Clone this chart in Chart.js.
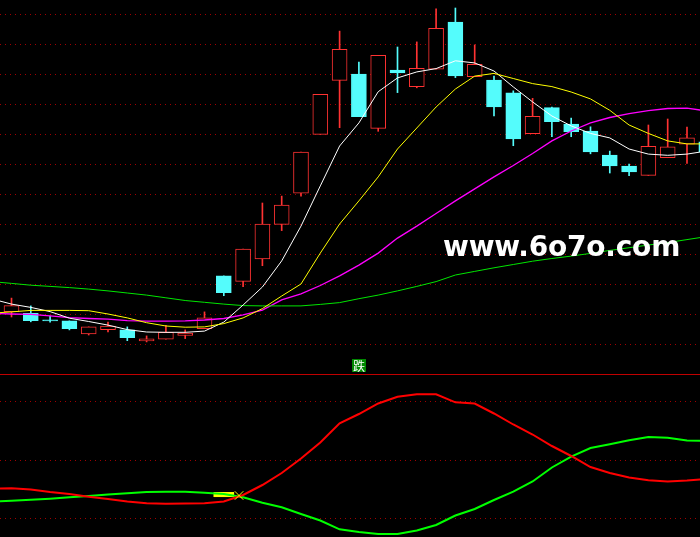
<!DOCTYPE html>
<html lang="zh">
<head>
<meta charset="utf-8">
<title>K线</title>
<script src="https://cdn.jsdelivr.net/npm/chart.js@4.4.0/dist/chart.umd.min.js"></script>
<style>
    html, body { margin: 0; padding: 0; background: #000; }
    #wrap { position: relative; width: 700px; height: 537px; overflow: hidden; background: #000; }
    #klineChart { position: absolute; left: 0; top: 0; }
    #sep { position: absolute; left: 0; top: 374px; width: 700px; height: 1px; background: #c00000; }
    #indChart { position: absolute; left: 0; top: 375px; }
    #signal { position: absolute; left: 352px; top: 359px; width: 14px; height: 13px; background: #008800; color: #fff;
              font: 12px/13px "Noto Sans CJK SC", sans-serif; text-align: center; }
    #mark { position: absolute; left: 443px; top: 233px; color: #fff; font: bold 28px/28px "DejaVu Sans", sans-serif; white-space: nowrap; letter-spacing: -0.2px; }
</style>
</head>
<body>
<div id="wrap">
    <canvas id="klineChart" width="700" height="374"></canvas>
    <div id="sep"></div>
    <canvas id="indChart" width="700" height="162"></canvas>
    <div id="signal">跌</div>
    <div id="mark">www.6o7o.com</div>
</div>
<script>
// K线数据 (按交易日序号)
const days = [0,1,2,3,4,5,6,7,8,9,10,11,12,13,14,15,16,17,18,19,20,21,22,23,24,25,26,27,28,29,30,31,32,33,34,35,36];
const opens  = [12.08,12.02,11.80,11.77,11.34,11.48,11.47,11.10,11.16,11.29,11.51,13.27,13.09,13.84,14.99,16.03,17.99,19.79,20.00,18.19,20.13,19.58,20.16,21.73,19.91,19.80,19.37,18.01,18.88,18.33,18.10,17.30,16.93,16.62,17.21,17.66,17.74];
const closes = [12.28,11.78,11.77,11.51,11.57,11.60,11.21,11.17,11.39,11.36,11.87,12.71,14.16,15.00,15.63,17.40,19.32,20.82,18.58,20.62,20.04,20.19,21.52,19.94,20.32,18.90,17.84,18.59,18.41,18.08,17.40,16.94,16.74,17.59,17.57,17.87,17.41];
const highs  = [12.53,12.27,11.93,11.77,11.57,11.73,11.57,11.27,11.62,11.47,12.07,13.27,14.16,15.70,15.93,17.40,19.32,21.43,20.40,20.62,20.90,21.07,22.17,22.20,20.97,19.93,19.44,19.19,18.90,18.53,18.24,17.43,17.00,18.30,18.50,18.23,17.87];
const lows   = [11.90,11.74,11.73,11.47,11.30,11.40,11.11,11.07,11.16,11.18,11.51,12.61,12.91,13.61,14.78,15.93,17.99,18.21,18.58,18.09,19.38,19.54,20.16,19.88,19.91,18.60,17.61,18.01,17.91,17.91,17.34,16.70,16.61,16.62,17.21,17.02,17.30];

// 均线 (从前一日 -1 开始)
const ma5  = [12.50,12.33,12.22,12.08,11.86,11.75,11.63,11.48,11.40,11.39,11.39,11.43,11.73,12.30,12.90,13.77,14.93,16.27,17.60,18.37,19.41,19.87,20.07,20.18,20.44,20.37,20.10,19.57,19.07,18.60,18.27,18.02,17.87,17.50,17.33,17.29,17.33,17.43];
const ma10 = [12.03,12.07,12.12,12.12,12.12,12.11,12.00,11.87,11.71,11.60,11.56,11.57,11.68,11.87,12.18,12.60,13.00,14.03,15.00,15.77,16.57,17.50,18.20,18.90,19.50,19.93,20.02,19.85,19.68,19.58,19.40,19.17,18.79,18.30,18.02,17.77,17.67,17.67];
const ma20 = [12.02,12.00,11.99,11.94,11.88,11.85,11.83,11.78,11.76,11.76,11.77,11.80,11.85,11.97,12.13,12.47,12.67,12.95,13.27,13.63,14.03,14.53,14.93,15.35,15.77,16.17,16.57,16.95,17.35,17.77,18.10,18.37,18.55,18.68,18.78,18.85,18.86,18.77];
const ma60 = [13.08,13.02,12.96,12.92,12.88,12.83,12.77,12.70,12.63,12.54,12.45,12.39,12.33,12.28,12.27,12.27,12.27,12.32,12.38,12.51,12.63,12.77,12.92,13.08,13.30,13.42,13.54,13.65,13.76,13.85,13.93,14.02,14.12,14.21,14.30,14.38,14.48,14.58];

// 副图指标
const redLine   = [35.54,35.64,35.03,33.74,32.72,31.33,30.15,28.87,27.95,27.74,27.79,27.95,28.87,32.21,37.33,43.49,50.92,59.13,68.97,73.74,79.13,82.62,83.85,83.85,79.74,79.13,74.00,68.36,63.23,57.33,52.21,46.56,43.49,41.18,39.74,39.13,39.64,40.41];
const greenLine = [28.87,29.28,29.74,30.31,31.03,31.69,32.41,33.08,33.74,33.85,33.90,33.38,32.72,31.03,28.21,25.90,22.46,19.13,14.62,13.23,12.21,12.21,14.00,16.82,21.69,25.03,29.64,33.90,39.13,46.31,51.85,56.31,58.21,60.26,61.95,61.59,60.15,59.90];
const signalDay = 11;
const signalBar = [31.33, 33.59];
const crossPoint = [11.79, 31.95];

// 网格刻度
const priceGrid = [10,11,12,13,14,15,16,17,18,19,20,21,22];
const indGrid = [20, 50, 80];

const RED = '#ff3232';
const CYAN = '#54fcfc';
const GRID = '#a00000';

document.addEventListener('DOMContentLoaded', function() {

    const isUp = i => closes[i] >= opens[i];
    const withPrev = arr => arr.map((v, k) => ({ x: k - 1, y: v }));

    function xScale() {
        return { type: 'linear', display: false, min: -0.596, max: 35.674, offset: false };
    }

    function yScale(min, max, grid) {
        return {
            min: min,
            max: max,
            ticks: { display: false },
            grid: { color: GRID, lineWidth: 1, drawTicks: false },
            border: { display: false, dash: [1, 4] },
            afterFit: function(s) { s.width = 0; },
            afterBuildTicks: function(s) { s.ticks = grid.map(v => ({ value: v })); }
        };
    }

    function baseOptions(yOpts) {
        return {
            responsive: false,
            animation: false,
            layout: { padding: 0, autoPadding: false },
            plugins: { legend: { display: false }, tooltip: { enabled: false } },
            scales: { x: xScale(), y: yOpts }
        };
    }

    // 主图: K线 + 均线
    new Chart(document.getElementById('klineChart'), {
        type: 'line',
        data: {
            datasets: [
                {
                    type: 'bar',
                    data: days.map(i => ({ x: i, y: [lows[i], highs[i]] })),
                    barThickness: 1,
                    backgroundColor: ctx => isUp(ctx.dataIndex) ? RED : CYAN,
                    borderWidth: 0,
                    grouped: false,
                    order: 3
                },
                {
                    type: 'bar',
                    data: days.map(i => ({ x: i, y: [opens[i], closes[i]] })),
                    barThickness: 15,
                    minBarLength: 1,
                    backgroundColor: ctx => isUp(ctx.dataIndex) ? '#000' : CYAN,
                    borderColor: ctx => isUp(ctx.dataIndex) ? RED : CYAN,
                    borderWidth: 1,
                    borderSkipped: false,
                    grouped: false,
                    order: 2
                },
                { data: withPrev(ma60), borderColor: '#00e600', borderWidth: 1, pointRadius: 0, tension: 0, order: 1 },
                { data: withPrev(ma20), borderColor: '#ff00ff', borderWidth: 1.3, pointRadius: 0, tension: 0, order: 1 },
                { data: withPrev(ma10), borderColor: '#ffff00', borderWidth: 1, pointRadius: 0, tension: 0, order: 0 },
                { data: withPrev(ma5), borderColor: '#ffffff', borderWidth: 1, pointRadius: 0, tension: 0, order: 0 }
            ]
        },
        options: baseOptions(yScale(10, 22.467, priceGrid))
    });

    // 副图: 红绿线
    new Chart(document.getElementById('indChart'), {
        type: 'line',
        data: {
            datasets: [
                {
                    type: 'bar',
                    data: [{ x: signalDay, y: signalBar }],
                    barThickness: 20,
                    backgroundColor: '#ffff00',
                    borderWidth: 0,
                    grouped: false,
                    order: 3
                },
                { data: withPrev(redLine), borderColor: '#ff0000', borderWidth: 2, pointRadius: 0, tension: 0, order: 2 },
                { data: withPrev(greenLine), borderColor: '#00ff00', borderWidth: 2, pointRadius: 0, tension: 0, order: 2 },
                {
                    data: [{ x: crossPoint[0], y: crossPoint[1] }],
                    showLine: false,
                    pointStyle: 'crossRot',
                    pointRadius: 6,
                    borderColor: '#ffff00',
                    borderWidth: 1,
                    order: 1
                }
            ]
        },
        options: baseOptions(yScale(10.67, 93.74, indGrid))
    });
});
</script>
</body>
</html>
